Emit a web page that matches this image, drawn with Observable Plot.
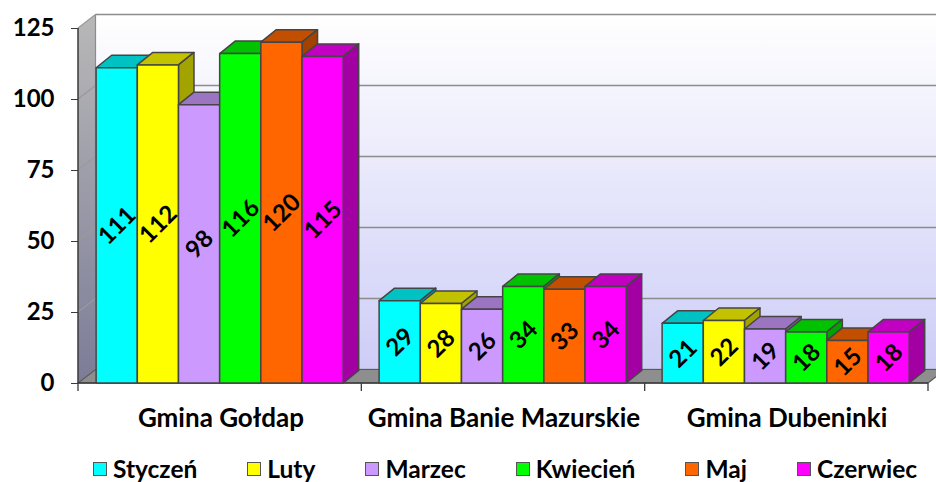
<!DOCTYPE html>
<html><head><meta charset="utf-8">
<script src="https://cdn.jsdelivr.net/npm/d3@7"></script>
<script src="https://cdn.jsdelivr.net/npm/@observablehq/plot@0.6"></script>
<style>
body{margin:0;background:#fff;}
#wrap{position:relative;width:936px;height:482px;overflow:hidden;background:#fff}
#legend{position:absolute;left:93px;top:455px;height:28px;display:flex;align-items:center;gap:50px;font:700 24.5px Lato,sans-serif;color:#000;white-space:nowrap;line-height:28px}
#legend .it{display:flex;align-items:center}
#legend .sw{width:12px;height:12px;border:1.5px solid #555;margin-right:6px}
</style></head><body>
<div id="wrap"><div id="chart"></div><div id="legend"></div></div>
<script>
const groups = ["Gmina Gołdap", "Gmina Banie Mazurskie", "Gmina Dubeninki"];
const months = ["Styczeń", "Luty", "Marzec", "Kwiecień", "Maj", "Czerwiec"];
const colors = ["#00FFFF", "#FFFF00", "#CC99FF", "#00FF00", "#FF6600", "#FF00FF"];
const styczen  = [111, 29, 21];
const luty     = [112, 28, 22];
const marzec   = [98, 26, 19];
const kwiecien = [116, 34, 18];
const maj      = [120, 33, 15];
const czerwiec = [115, 34, 18];
const yTicks = [0, 25, 50, 75, 100, 125];

const series = [styczen, luty, marzec, kwiecien, maj, czerwiec];
const data = groups.flatMap((g, gi) => months.map((m, si) => ({group: g, month: m, value: series[si][gi]})));

const DX = 15.5, DY = -12.5;   // bar depth
const WDX = 17.5, WDY = -13.5; // wall depth
const shade = (c, k) => { const r = d3.rgb(c); return d3.rgb(r.r * k, r.g * k, r.b * k).formatHex(); };

function bandStart(scales, dim) {
  const step = (dim.width - dim.marginLeft - dim.marginRight) / groups.length;
  const off = scales.x(groups[0]) - dim.marginLeft;
  return {step, start: g => scales.x(g) - off};
}

function walls(index, scales, values, dim) {
  const g = d3.create("svg:g");
  const defs = g.append("defs");
  const gb = defs.append("linearGradient").attr("id", "gBack").attr("x1", 0).attr("y1", 0).attr("x2", 0).attr("y2", 1);
  gb.append("stop").attr("offset", 0).attr("stop-color", "#ffffff");
  gb.append("stop").attr("offset", 1).attr("stop-color", "#cdcdf7");
  const gs = defs.append("linearGradient").attr("id", "gSide").attr("x1", 0).attr("y1", 0).attr("x2", 0).attr("y2", 1);
  gs.append("stop").attr("offset", 0).attr("stop-color", "#b8b8b8");
  gs.append("stop").attr("offset", 1).attr("stop-color", "#7c7c98");
  const xL = dim.marginLeft, xR = dim.width - dim.marginRight;
  const y0 = scales.y(0), yT = scales.y(yTicks[yTicks.length - 1]);
  const {step} = bandStart(scales, dim);
  g.append("path").attr("d", `M${xL},${y0}L${xL},${yT}L${xL + WDX},${yT + WDY}L${xL + WDX},${y0 + WDY}Z`)
    .attr("fill", "url(#gSide)");
  g.append("rect").attr("x", xL + WDX).attr("y", yT + WDY).attr("width", xR - xL).attr("height", y0 - yT)
    .attr("fill", "url(#gBack)");
  for (const v of yTicks) {
    const y = scales.y(v);
    g.append("line").attr("x1", xL + WDX).attr("x2", xR + WDX).attr("y1", y + WDY).attr("y2", y + WDY)
      .attr("stroke", "#8c8c8c").attr("stroke-width", 1.5);
    g.append("line").attr("x1", xL).attr("x2", xL + WDX).attr("y1", y).attr("y2", y + WDY)
      .attr("stroke", "#9a9a9a").attr("stroke-width", 1.2);
  }
  g.append("line").attr("x1", xL + WDX).attr("x2", xL + WDX).attr("y1", yT + WDY).attr("y2", y0 + WDY)
    .attr("stroke", "#8c8c8c").attr("stroke-width", 1.2);
  g.append("path").attr("d", `M${xL},${y0}L${xL + WDX},${y0 + WDY}L${xR + WDX},${y0 + WDY}L${xR},${y0}Z`)
    .attr("fill", "#8e8e8e").attr("stroke", "#5a5a5a").attr("stroke-width", 1.2).attr("stroke-linejoin", "round");
  g.append("line").attr("x1", xL).attr("x2", xL).attr("y1", yT).attr("y2", y0).attr("stroke", "#3a3a3a").attr("stroke-width", 1.5);
  g.append("line").attr("x1", xL).attr("x2", xR).attr("y1", y0).attr("y2", y0).attr("stroke", "#3a3a3a").attr("stroke-width", 1.5);
  for (let k = 0; k <= groups.length; ++k) {
    const x = xL + k * step;
    g.append("line").attr("x1", x).attr("x2", x).attr("y1", y0).attr("y2", y0 + 8).attr("stroke", "#3a3a3a").attr("stroke-width", 1.3);
  }
  return g.node();
}

function bars3d(index, scales, values, dim) {
  const g = d3.create("svg:g");
  const {step, start} = bandStart(scales, dim);
  const inner = d3.scaleBand().domain(months).range([0, step]).paddingInner(0).paddingOuter(0.44);
  const w = inner.bandwidth();
  const y0 = scales.y(0);
  const gl = g.append("g");
  for (const i of index) {
    const d = data[i];
    const x0 = start(d.group) + inner(d.month);
    const y1 = scales.y(d.value);
    const c = colors[months.indexOf(d.month)];
    gl.append("path").attr("d", `M${x0},${y1}L${x0 + DX},${y1 + DY}L${x0 + w + DX},${y1 + DY}L${x0 + w},${y1}Z`).attr("fill", shade(c, 0.76));
    gl.append("path").attr("d", `M${x0 + w},${y1}L${x0 + w + DX},${y1 + DY}L${x0 + w + DX},${y0 + DY}L${x0 + w},${y0}Z`).attr("fill", shade(c, 0.64));
    gl.append("rect").attr("x", x0).attr("y", y1).attr("width", w).attr("height", y0 - y1).attr("fill", c);
  }
  gl.selectAll("path,rect").attr("stroke", "#454545").attr("stroke-width", 1.5).attr("stroke-linejoin", "round");
  for (const i of index) {
    const d = data[i];
    const cx = start(d.group) + inner(d.month) + w / 2;
    const cy = scales.y(d.value / 2);
    g.append("text").attr("transform", `translate(${cx},${cy}) rotate(-45)`)
      .attr("text-anchor", "middle").attr("dy", "0.35em")
      .attr("font-family", "Lato, sans-serif").attr("font-weight", 700).attr("font-size", 24).attr("fill", "#000")
      .text(String(d.value));
  }
  return g.node();
}

const chart = Plot.plot({
  width: 936, height: 445,
  marginLeft: 78, marginRight: 8, marginTop: 28, marginBottom: 62,
  style: {fontFamily: "Lato, sans-serif", background: "transparent", overflow: "visible"},
  x: {domain: groups, padding: 0, label: null},
  y: {domain: [0, 125], label: null},
  marks: [
    Plot.ruleY(yTicks, {y: d => d, render: walls}),
    Plot.axisY({ticks: yTicks, tickSize: 7, tickPadding: 17, fontSize: 24, fontWeight: "bold", fill: "#000", stroke: "#3a3a3a", label: null}),
    Plot.barY(data, {x: "group", y: "value", render: bars3d}),
    Plot.axisX({tickSize: 0, tickPadding: 25, fontSize: 26, fontWeight: "bold", fill: "#000", label: null})
  ]
});
document.getElementById("chart").append(chart);

const legend = d3.select("#legend");
months.forEach((m, i) => {
  const it = legend.append("div").attr("class", "it");
  it.append("div").attr("class", "sw").style("background", colors[i]);
  it.append("span").text(m);
});
</script>
</body></html>
